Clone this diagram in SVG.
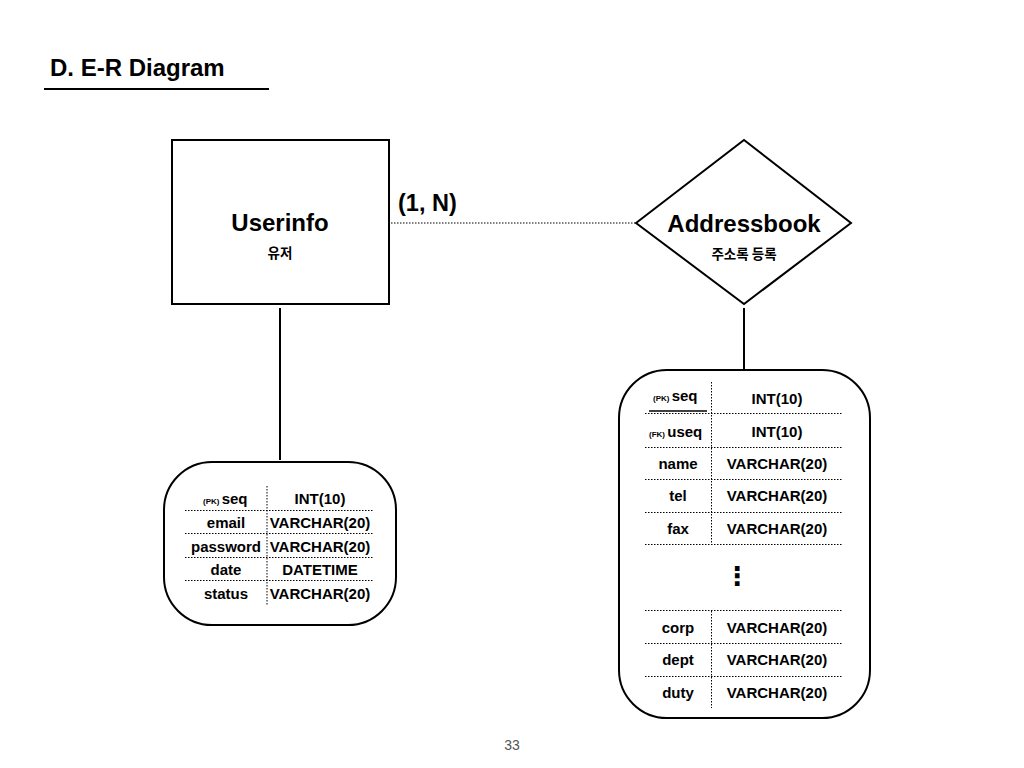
<svg xmlns="http://www.w3.org/2000/svg" width="1024" height="768" viewBox="0 0 1024 768">
<style>
text{font-family:"Liberation Sans","Noto Sans CJK KR",Arial,sans-serif;fill:#000}
.b{font-weight:bold}
.t{font-size:15px;font-weight:bold;text-anchor:middle}
.s{font-size:8px;font-weight:bold}
.ko{font-size:13.5px;font-weight:bold;text-anchor:middle;font-family:"Noto Sans CJK KR",sans-serif}
.shape{fill:#fff;stroke:#000;stroke-width:2}
.dot{stroke:#000;stroke-width:1;stroke-dasharray:1.5 1.5;fill:none}
.ln{stroke:#000;stroke-width:2;fill:none}
</style>
<rect width="1024" height="768" fill="#fff"/>
<g id="title">
<text x="50" y="76" class="b" font-size="24">D. E-R Diagram</text>
<line x1="44" y1="89" x2="269" y2="89" class="ln"/>
</g>
<g id="connectors">
<line x1="391" y1="223" x2="636" y2="223" class="dot" stroke-width="1.3"/>
<text x="398" y="211" class="b" font-size="23.5">(1, N)</text>
<line x1="280" y1="308" x2="280" y2="460" class="ln"/>
<line x1="744" y1="308" x2="744" y2="369" class="ln"/>
</g>
<g id="userinfo">
<rect x="172" y="140" width="217" height="164" class="shape"/>
<text x="280" y="231" class="b" font-size="24" text-anchor="middle">Userinfo</text>
<text x="280" y="258" class="ko">유저</text>
</g>
<g id="addressbook">
<polygon points="636,223 744,140 851,223 744,304" class="shape"/>
<text x="744" y="232" class="b" font-size="24" text-anchor="middle">Addressbook</text>
<text x="744" y="259" class="ko">주소록 등록</text>
</g>
<g id="userinfo-attrs">
<rect x="164" y="462" width="232" height="163" rx="48" ry="48" class="shape"/>
<line x1="267" y1="486" x2="267" y2="606" class="dot"/>
<line x1="185" y1="510.5" x2="374" y2="510.5" class="dot"/>
<line x1="185" y1="533.5" x2="374" y2="533.5" class="dot"/>
<line x1="185" y1="557.5" x2="374" y2="557.5" class="dot"/>
<line x1="185" y1="580.5" x2="374" y2="580.5" class="dot"/>
<text x="203" y="504" class="s">(PK) <tspan font-size="15">seq</tspan></text>
<text x="320" y="504" class="t">INT(10)</text>
<text x="226" y="528" class="t">email</text>
<text x="320" y="528" class="t">VARCHAR(20)</text>
<text x="226" y="552" class="t">password</text>
<text x="320" y="552" class="t">VARCHAR(20)</text>
<text x="226" y="575" class="t">date</text>
<text x="320" y="575" class="t">DATETIME</text>
<text x="226" y="599" class="t">status</text>
<text x="320" y="599" class="t">VARCHAR(20)</text>
</g>
<g id="addressbook-attrs">
<rect x="619" y="370" width="251" height="348" rx="48" ry="48" class="shape"/>
<line x1="711.5" y1="382" x2="711.5" y2="545" class="dot"/>
<line x1="711.5" y1="611" x2="711.5" y2="708" class="dot"/>
<line x1="645" y1="413.5" x2="843" y2="413.5" class="dot"/>
<line x1="645" y1="447.5" x2="843" y2="447.5" class="dot"/>
<line x1="645" y1="479.5" x2="843" y2="479.5" class="dot"/>
<line x1="645" y1="512.5" x2="843" y2="512.5" class="dot"/>
<line x1="645" y1="544.5" x2="843" y2="544.5" class="dot"/>
<line x1="645" y1="610.5" x2="843" y2="610.5" class="dot"/>
<line x1="645" y1="643.5" x2="843" y2="643.5" class="dot"/>
<line x1="645" y1="676.5" x2="843" y2="676.5" class="dot"/>
<line x1="649" y1="411" x2="707" y2="411" stroke="#000" stroke-width="1.3"/>
<text x="653" y="401" class="s">(PK) <tspan font-size="15">seq</tspan></text>
<text x="777" y="404" class="t">INT(10)</text>
<text x="649" y="437" class="s">(FK) <tspan font-size="15">useq</tspan></text>
<text x="777" y="437" class="t">INT(10)</text>
<text x="678" y="469" class="t">name</text>
<text x="777" y="469" class="t">VARCHAR(20)</text>
<text x="678" y="501" class="t">tel</text>
<text x="777" y="501" class="t">VARCHAR(20)</text>
<text x="678" y="534" class="t">fax</text>
<text x="777" y="534" class="t">VARCHAR(20)</text>
<text x="737" y="585" class="b" font-size="26" text-anchor="middle" style="font-family:'DejaVu Sans',sans-serif">⋮</text>
<text x="678" y="633" class="t">corp</text>
<text x="777" y="633" class="t">VARCHAR(20)</text>
<text x="678" y="665" class="t">dept</text>
<text x="777" y="665" class="t">VARCHAR(20)</text>
<text x="678" y="698" class="t">duty</text>
<text x="777" y="698" class="t">VARCHAR(20)</text>
</g>
<text x="512" y="750" font-size="14" text-anchor="middle" style="fill:#555">33</text>
</svg>
